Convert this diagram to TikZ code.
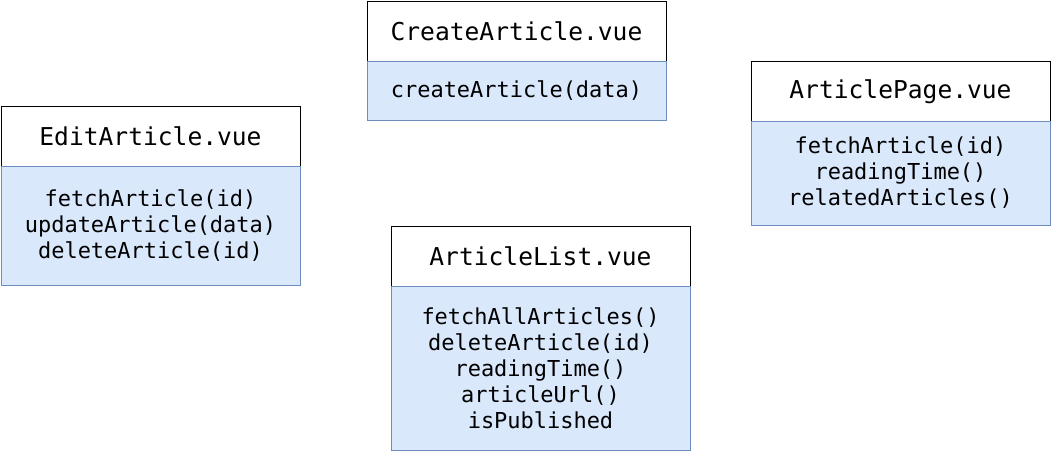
\documentclass[tikz,border=0pt]{standalone}
\usepackage{fontspec}
\setmonofont{DejaVu Sans Mono}
\definecolor{bodyfill}{HTML}{DAE8FC}
\definecolor{bodyline}{HTML}{6C8EBF}
\begin{document}
\begin{tikzpicture}[x=0.02cm,y=-0.02cm,
    every node/.style={inner sep=0pt,outer sep=0pt,font=\ttfamily},
    head/.style={draw=black,fill=white,minimum width=5.98cm,minimum height=1.2cm,font=\ttfamily\fontsize{14pt}{16pt}\selectfont},
    body/.style={draw=bodyline,fill=bodyfill,minimum width=5.98cm,align=center,font=\ttfamily\fontsize{12.5pt}{14.8pt}\selectfont}]
        \useasboundingbox (0,0) rectangle (1052,452);
        % CreateArticle
        \node[head] (CH) at (516.5,31) {CreateArticle.vue};
        \node[body,minimum height=1.18cm] (CB) at (516.5,90.5) {createArticle(data)};
        % EditArticle
        \node[head] (EH) at (150.5,136) {EditArticle.vue};
        \node[body,minimum height=2.38cm] (EB) at (150.5,225.5) {fetchArticle(id)\\updateArticle(data)\\deleteArticle(id)};
        % ArticlePage
        \node[head] (PH) at (900.5,91.5) {ArticlePage.vue};
        \node[body,minimum height=2.08cm] (PB) at (900.5,173) {fetchArticle(id)\\readingTime()\\relatedArticles()};
        % ArticleList
        \node[head] (LH) at (540.5,256) {ArticleList.vue};
        \node[body,minimum height=3.28cm] (LB) at (540.5,368) {fetchAllArticles()\\deleteArticle(id)\\readingTime()\\articleUrl()\\isPublished};
\end{tikzpicture}
\end{document}
